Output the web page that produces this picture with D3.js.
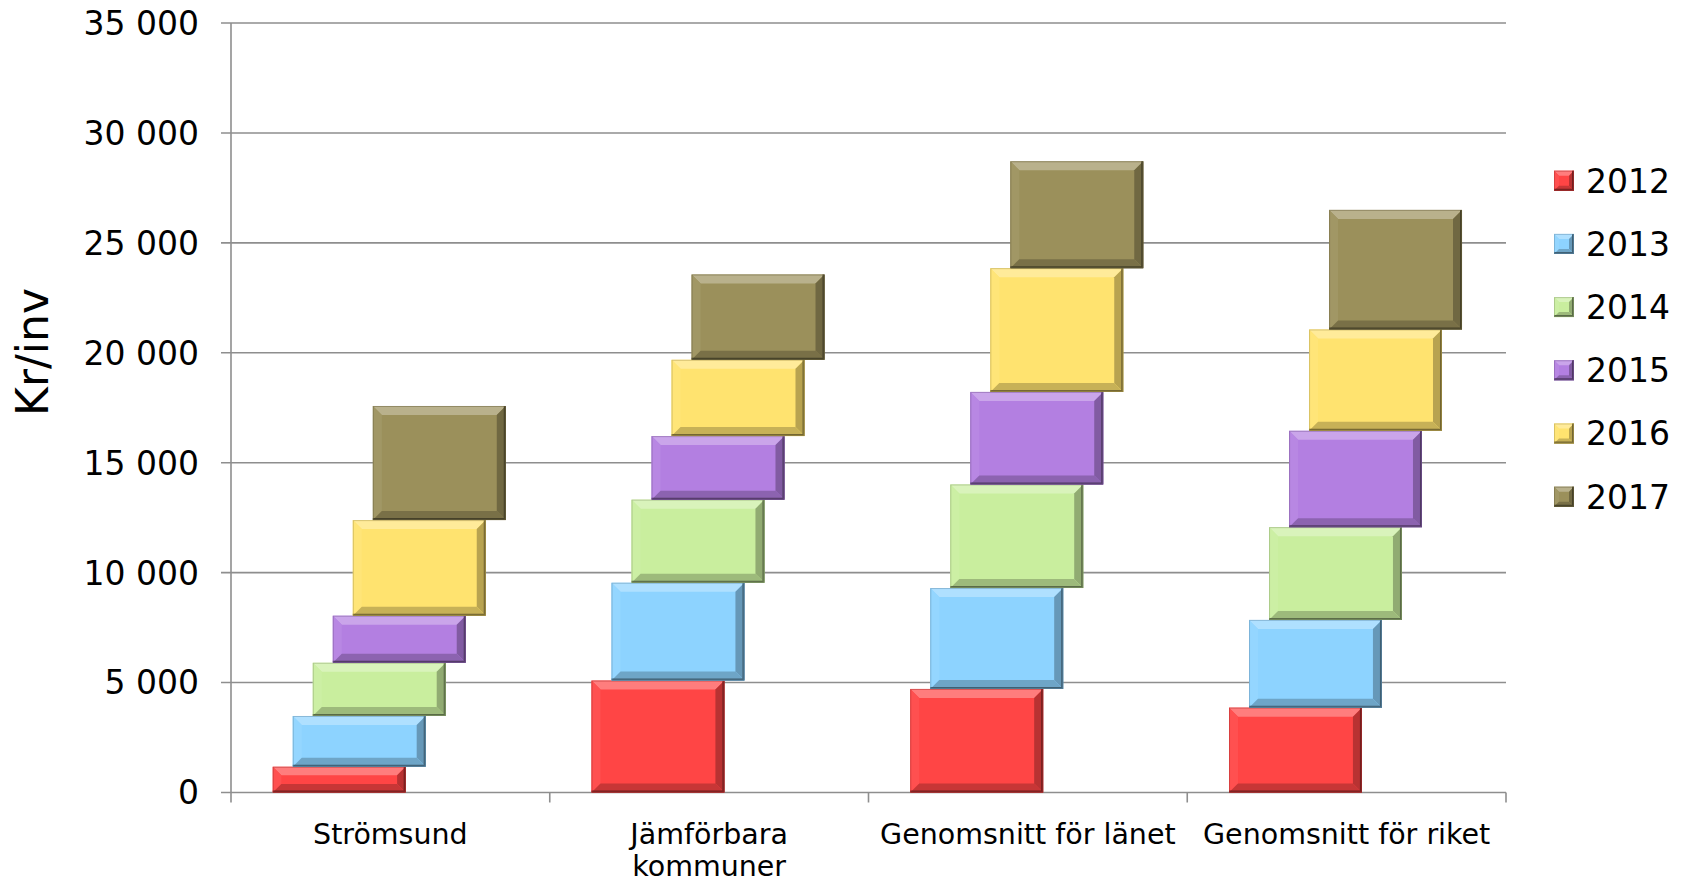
<!DOCTYPE html>
<html>
<head>
<meta charset="utf-8">
<script src="https://cdn.jsdelivr.net/npm/d3@7/dist/d3.min.js"></script>
<style>
  html, body { margin: 0; padding: 0; background: #fff; }
  svg { display: block; }
  text { font-family: "DejaVu Sans", Verdana, sans-serif; fill: #000; }
</style>
</head>
<body>
<svg id="chart" width="1684" height="882"></svg>
<script>
// ---- Data ----
const categories = ["Strömsund", "Jämförbara kommuner", "Genomsnitt för länet", "Genomsnitt för riket"];
const categoryLines = [["Strömsund"], ["Jämförbara", "kommuner"], ["Genomsnitt för länet"], ["Genomsnitt för riket"]];
const years = ["2012", "2013", "2014", "2015", "2016", "2017"];
const v2012 = [1170, 5090, 4710, 3860];
const v2013 = [2310, 4450, 4590, 3990];
const v2014 = [2420, 3780, 4710, 4220];
const v2015 = [2140, 2890, 4210, 4380];
const v2016 = [4350, 3470, 5630, 4610];
const v2017 = [5190, 3880, 4860, 5440];
const seriesValues = [v2012, v2013, v2014, v2015, v2016, v2017];
const colors = ["#ff4545", "#8dd3ff", "#c9ee9e", "#b37fe1", "#ffe36f", "#9b905b"];
const yTicks = [0, 5000, 10000, 15000, 20000, 25000, 30000, 35000];
const yTitle = "Kr/inv";

// ---- Layout ----
const svg = d3.select("#chart");
const plot = { left: 231, right: 1506, top: 23, bottom: 792.5 };

const x = d3.scaleBand().domain(categories).range([plot.left, plot.right]).padding(0);
const y = d3.scaleLinear().domain([0, 35000]).range([plot.bottom, plot.top]);
const bw = x.bandwidth();
const seriesOffset = d3.scaleLinear().domain([0, years.length - 1]).range([bw * 0.131, bw * 0.131 + bw * 0.314]);
const barW = bw * 0.417;

const locale = d3.formatLocale({ decimal: ",", thousands: " ", grouping: [3], currency: ["", ""] });
const fmt = locale.format(",d");

// ---- Gridlines ----
const gridColor = "#8e8e8e";
svg.append("g").selectAll("line").data(yTicks).join("line")
  .attr("x1", plot.left - 10).attr("x2", plot.right)
  .attr("y1", d => y(d)).attr("y2", d => y(d))
  .attr("stroke", gridColor).attr("stroke-width", 1.6);

svg.append("line").attr("x1", plot.left).attr("x2", plot.left)
  .attr("y1", y(35000)).attr("y2", y(0)).attr("stroke", gridColor).attr("stroke-width", 1.6);

const xTickPos = categories.map(c => x(c)).concat([plot.right]);
svg.append("g").selectAll("line").data(xTickPos).join("line")
  .attr("x1", d => d).attr("x2", d => d)
  .attr("y1", y(0)).attr("y2", y(0) + 10)
  .attr("stroke", gridColor).attr("stroke-width", 1.6);

svg.append("g").selectAll("text").data(yTicks).join("text")
  .attr("x", 199).attr("y", d => y(d))
  .attr("dy", "0.36em")
  .attr("text-anchor", "end")
  .style("font-size", "33px")
  .text(d => fmt(d));

svg.append("text")
  .attr("transform", `translate(48, 352) rotate(-90)`)
  .attr("text-anchor", "middle")
  .style("font-size", "44px")
  .text(yTitle);

const catG = svg.append("g");
categories.forEach((c, i) => {
  const t = catG.append("text")
    .attr("x", x(c) + bw / 2).attr("y", 844)
    .attr("text-anchor", "middle")
    .style("font-size", "28.5px");
  categoryLines[i].forEach((ln, j) => {
    t.append("tspan").attr("x", x(c) + bw / 2).attr("dy", j === 0 ? 0 : "1.13em").text(ln);
  });
});

// ---- Bars with bevel ----
function shade(col, k) {
  const c = d3.rgb(col);
  if (k > 0) return d3.interpolateRgb(c, "#ffffff")(k);
  return d3.interpolateRgb(c, "#000000")(-k);
}

function bevelRect(g, x0, y0, x1, y1, col, bMax) {
  const w = x1 - x0, h = y1 - y0;
  const b = Math.min(bMax, w / 3, h / 3);
  const pts = a => a.map(p => p.join(",")).join(" ");
  g.append("rect").attr("x", x0).attr("y", y0).attr("width", w).attr("height", h).attr("fill", col);
  g.append("polygon").attr("points", pts([[x0, y0], [x1, y0], [x1 - b, y0 + b], [x0 + b, y0 + b]]))
    .attr("fill", shade(col, 0.3));
  g.append("polygon").attr("points", pts([[x0, y0], [x0 + b, y0 + b], [x0 + b, y1 - b], [x0, y1]]))
    .attr("fill", shade(col, 0.06));
  g.append("polygon").attr("points", pts([[x1, y0], [x1 - b, y0 + b], [x1 - b, y1 - b], [x1, y1]]))
    .attr("fill", shade(col, -0.28));
  g.append("polygon").attr("points", pts([[x0, y1], [x1, y1], [x1 - b, y1 - b], [x0 + b, y1 - b]]))
    .attr("fill", shade(col, -0.22));
  // thin dark rim on right & bottom
  g.append("path").attr("d", `M${x1 - 1},${y0} L${x1 - 1},${y1 - 1} L${x0},${y1 - 1}`)
    .attr("fill", "none").attr("stroke", shade(col, -0.55)).attr("stroke-width", 2);
  g.append("rect").attr("x", x0 + 0.5).attr("y", y0 + 0.5).attr("width", w - 1).attr("height", h - 1)
    .attr("fill", "none").attr("stroke", shade(col, -0.3)).attr("stroke-width", 1).attr("stroke-opacity", 0.5);
}

const stackData = categories.map((c, ci) => {
  const o = { cat: c };
  years.forEach((yr, si) => { o[yr] = seriesValues[si][ci]; });
  return o;
});
const stacked = d3.stack().keys(years)(stackData);

const barsG = svg.append("g");
stacked.forEach((layer, si) => {
  layer.forEach(seg => {
    const cat = seg.data.cat;
    const x0 = x(cat) + seriesOffset(si);
    const x1 = x0 + barW;
    bevelRect(barsG.append("g"), x0, y(seg[1]), x1, y(seg[0]), colors[si], 9);
  });
});

// ---- Legend ----
const legendY = d3.scaleLinear().domain([0, years.length - 1]).range([180.7, 180.7 + 5 * 63.2]);
const legG = svg.append("g");
years.forEach((yr, i) => {
  const cy = legendY(i);
  bevelRect(legG.append("g"), 1554, cy - 10, 1574, cy + 10, colors[i], 5);
  legG.append("text").attr("x", 1586).attr("y", cy).attr("dy", "0.36em")
    .style("font-size", "33px").text(yr);
});
</script>
</body>
</html>
